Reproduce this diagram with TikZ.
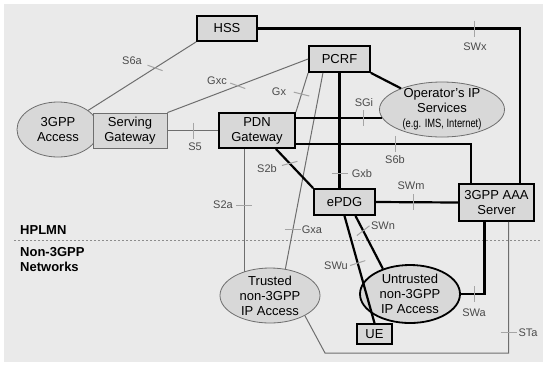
\documentclass[tikz,border=0pt]{standalone}
\usepackage{fontspec}
\usepackage{graphicx}
\setmainfont{Liberation Sans}
\usetikzlibrary{shapes.geometric}
\definecolor{bggray}{RGB}{234,234,234}
\definecolor{boxgray}{RGB}{216,216,216}
\definecolor{linegray}{RGB}{110,110,110}
\definecolor{tickgray}{RGB}{165,165,165}
\definecolor{labelgray}{RGB}{75,75,75}
\definecolor{sepgray}{RGB}{140,140,140}

% 接口刻线
\newcommand{\iftick}[2]{\draw[tickline] (#1) ++(180+#2:8) -- ++(#2:16);}

\begin{document}
\begin{tikzpicture}[x=1pt,y=-1pt,
  txt/.style={font=\fontsize{13}{15}\selectfont, align=center},
  thickbox/.style={txt, draw, line width=1.8pt, fill=boxgray, inner sep=1pt},
  thinbox/.style={txt, draw=linegray, line width=0.8pt, fill=boxgray, inner sep=1pt},
  areaoval/.style={ellipse, draw=linegray, line width=0.8pt, fill=boxgray, inner sep=0pt},
  thinlink/.style={draw=linegray, line width=1pt},
  thicklink/.style={draw=black, line width=2.2pt},
  tickline/.style={draw=tickgray, line width=1pt},
  iface/.style={font=\fontsize{11}{13}\selectfont, text=labelgray, inner sep=0pt},
  zone/.style={font=\bfseries\fontsize{13}{15}\selectfont, align=left, anchor=west, inner sep=0pt}]

  % 背景
  \path[use as bounding box] (0,0) rectangle (545,365);
  \fill[bggray] (4,4) rectangle (543,362);

  % 分界线
  \draw[sepgray, line width=1pt, dash pattern=on 2pt off 2pt] (14,240.5) -- (540,240.5);
  \node[zone] (hplmn) at (20,230) {HPLMN};
  \node[zone] (non3gpp) at (20,259.5) {Non-3GPP\\Networks};

  % 网元
  \node[areaoval, minimum width=82, minimum height=55,
        label={[txt]center:{3GPP\\Access}}] (access) at (58,129.5) {};
  \node[thinbox, minimum width=74, minimum height=35] (sgw) at (130,130.5) {Serving\\Gateway};
  \node[thickbox, minimum width=60, minimum height=25] (hss) at (227,28.5) {HSS};
  \node[thickbox, minimum width=61, minimum height=26] (pcrf) at (339.5,59) {PCRF};
  \node[thickbox, minimum width=76, minimum height=35] (pdn) at (257,130.5) {PDN\\Gateway};
  \node[areaoval, minimum width=125, minimum height=55,
        label={[txt]center:{Operator’s IP\\Services\\\scalebox{0.78}[1]{\fontsize{12}{14}\selectfont(e.g. IMS, Internet)}}}] (ops) at (442,109.5) {};
  \node[thickbox, minimum width=61, minimum height=26] (epdg) at (344.5,202) {ePDG};
  \node[thickbox, minimum width=75, minimum height=37] (aaa) at (496.5,202.5) {3GPP AAA\\Server};
  \node[areaoval, minimum width=100, minimum height=55,
        label={[txt]center:{Trusted\\non-3GPP\\IP Access}}] (trusted) at (270,295.5) {};
  \node[areaoval, draw=black, line width=1.8pt, minimum width=100, minimum height=58,
        label={[txt]center:{Untrusted\\non-3GPP\\IP Access}}] (untrusted) at (410,294) {};
  \node[thickbox, minimum width=35, minimum height=20] (ue) at (374.5,334) {UE};

  % 细线接口
  \draw[thinlink] (access) -- coordinate[pos=0.62] (t-s6a) (hss.south west);
  \draw[thinlink] (pcrf.west) -- coordinate[pos=0.5] (t-gxc) (sgw.north east);
  \draw[thinlink] (pcrf.south west) -- coordinate[pos=0.54] (t-gx) (pdn.north east);
  \draw[thinlink] (pcrf.220) -- coordinate[pos=0.8] (t-gxa) (trusted.60);
  \draw[thinlink] (sgw.east) -- coordinate[pos=0.52] (t-s5) (pdn.west);
  \draw[thinlink] (pdn.south -| trusted.137) -- coordinate[pos=0.46] (t-s2a) (trusted.137);
  \coordinate (sta-bend) at (325,353);
  \draw[thinlink] ([xshift=12pt]aaa.south) |- coordinate[pos=0.42] (t-sta) (sta-bend) -- (trusted.-30);

  % 粗线接口
  \draw[thicklink] (hss.east) -| coordinate[pos=0.414] (t-swx) ([xshift=-15pt]aaa.north east);
  \draw[thicklink] (pcrf.south east) -- (ops);
  \draw[thicklink] (pcrf.south) -- coordinate[pos=0.87] (t-gxb) (pcrf.south |- epdg.north);
  \draw[thicklink] (ops.188) -- coordinate[pos=0.22] (t-sgi) (ops.188 -| pdn.east);
  \draw[thicklink] ([yshift=5pt]pdn.south east) -| coordinate[pos=0.283] (t-s6b) ([xshift=13pt]aaa.north west);
  \draw[thicklink] ([xshift=-20pt]pdn.south east) -- coordinate[pos=0.37] (t-s2b) (epdg.north west);
  \draw[thicklink] (epdg.east) -- coordinate[pos=0.46] (t-swm) (aaa.west);
  \draw[thicklink] (epdg.south) -- coordinate[pos=0.44] (t-swu) (ue.north);
  \draw[thicklink] ([xshift=11pt]epdg.south) -- coordinate[pos=0.28] (t-swn) (untrusted.137);
  \draw[thicklink] ([xshift=-12pt]aaa.south) |- coordinate[pos=0.71] (t-swa) (untrusted.east);

  % 刻线
  \iftick{t-s6a}{20}
  \iftick{t-gxc}{20}
  \iftick{t-gx}{14}
  \iftick{t-gxa}{0}
  \iftick{t-s5}{90}
  \iftick{t-s2a}{0}
  \iftick{t-sta}{0}
  \iftick{t-swx}{90}
  \iftick{t-gxb}{0}
  \iftick{t-sgi}{90}
  \iftick{t-s6b}{90}
  \iftick{t-s2b}{-15}
  \iftick{t-swm}{90}
  \iftick{t-swu}{-18}
  \iftick{t-swn}{-38}
  \iftick{t-swa}{90}

  % 接口名
  \node[iface] (l-s6a) at (132,61) {S6a};
  \node[iface] (l-gxc) at (217,81) {Gxc};
  \node[iface] (l-gx) at (279,92) {Gx};
  \node[iface] (l-s5) at (195,147) {S5};
  \node[iface] (l-sgi) at (364,103) {SGi};
  \node[iface] (l-s6b) at (395,160) {S6b};
  \node[iface] (l-swx) at (475,47) {SWx};
  \node[iface] (l-gxb) at (362,174) {Gxb};
  \node[iface] (l-s2a) at (223,205) {S2a};
  \node[iface] (l-s2b) at (267,169) {S2b};
  \node[iface] (l-gxa) at (312,230) {Gxa};
  \node[iface] (l-swm) at (411,186) {SWm};
  \node[iface] (l-swu) at (336,266) {SWu};
  \node[iface] (l-swn) at (383,226) {SWn};
  \node[iface] (l-swa) at (474,313) {SWa};
  \node[iface] (l-sta) at (528,333) {STa};
\end{tikzpicture}
\end{document}
